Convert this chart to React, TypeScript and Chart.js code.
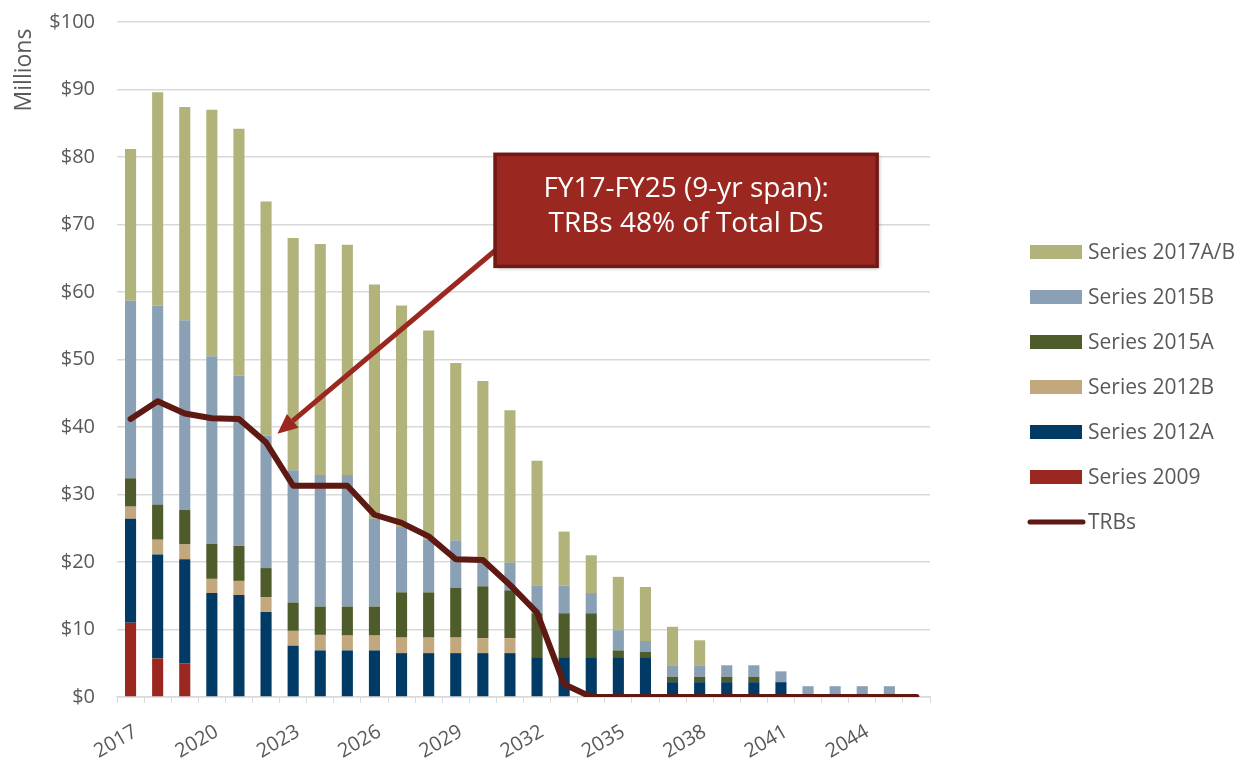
import React, { useEffect, useRef } from "react";
import { Chart, registerables } from "chart.js";

Chart.register(...registerables);

const FONT = "'Open Sans', 'Liberation Sans', sans-serif";
const SHIFT = 12; // canvas is shifted up by this many px

const years = [
  "2017", "2018", "2019", "2020", "2021", "2022", "2023", "2024", "2025", "2026",
  "2027", "2028", "2029", "2030", "2031", "2032", "2033", "2034", "2035", "2036",
  "2037", "2038", "2039", "2040", "2041", "2042", "2043", "2044", "2045", "2046",
];

const series2009 = [11.0, 5.7, 5.0, 0, 0, 0, 0, 0, 0, 0, 0, 0, 0, 0, 0, 0, 0, 0, 0, 0, 0, 0, 0, 0, 0, 0, 0, 0, 0, 0];
const series2012A = [15.4, 15.4, 15.4, 15.4, 15.1, 12.6, 7.6, 6.9, 6.9, 6.9, 6.5, 6.5, 6.5, 6.5, 6.5, 5.9, 5.9, 5.9, 5.9, 5.9, 2.2, 2.2, 2.2, 2.2, 2.2, 0, 0, 0, 0, 0];
const series2012B = [1.8, 2.2, 2.2, 2.1, 2.1, 2.2, 2.2, 2.3, 2.2, 2.2, 2.3, 2.3, 2.3, 2.2, 2.2, 0, 0, 0, 0, 0, 0, 0, 0, 0, 0, 0, 0, 0, 0, 0];
const series2015A = [4.2, 5.2, 5.1, 5.2, 5.2, 4.3, 4.2, 4.2, 4.3, 4.3, 6.7, 6.7, 7.4, 7.7, 7.1, 6.5, 6.5, 6.5, 1.0, 0.8, 0.8, 0.8, 0.8, 0.8, 0, 0, 0, 0, 0, 0];
const series2015B = [26.3, 29.5, 28.1, 27.8, 25.2, 19.6, 19.6, 19.5, 19.5, 13.0, 9.7, 7.8, 7.0, 3.5, 4.1, 4.1, 4.1, 3.0, 3.0, 1.6, 1.6, 1.6, 1.7, 1.7, 1.6, 1.6, 1.6, 1.6, 1.6, 0];
const series2017AB = [22.5, 31.6, 31.6, 36.5, 36.6, 34.7, 34.4, 34.2, 34.1, 34.7, 32.8, 31.0, 26.3, 26.9, 22.6, 18.5, 8.0, 5.6, 7.9, 8.0, 5.8, 3.8, 0, 0, 0, 0, 0, 0, 0, 0];
const trbs = [41.2, 43.8, 42.0, 41.3, 41.2, 37.7, 31.3, 31.3, 31.3, 27.0, 25.8, 23.8, 20.4, 20.3, 16.6, 12.5, 1.9, 0, 0, 0, 0, 0, 0, 0, 0, 0, 0, 0, 0, 0];

const yTicks = [0, 10, 20, 30, 40, 50, 60, 70, 80, 90, 100];

const legendItems = [
  { label: "Series 2017A/B", color: "#b1b37b", type: "box" },
  { label: "Series 2015B", color: "#8aa0b5", type: "box" },
  { label: "Series 2015A", color: "#4e5b2b", type: "box" },
  { label: "Series 2012B", color: "#c4a87d", type: "box" },
  { label: "Series 2012A", color: "#003a65", type: "box" },
  { label: "Series 2009", color: "#9b2820", type: "box" },
  { label: "TRBs", color: "#5e1913", type: "line" },
];

const annotationLines = ["FY17-FY25 (9-yr span):", "TRBs 48% of Total DS"];

export default function App() {
  const canvasRef = useRef<HTMLCanvasElement>(null);

  useEffect(() => {
    document.body.style.margin = "0";
    document.body.style.overflow = "hidden";
    const canvas = canvasRef.current;
    if (!canvas) return;

    const overlay = {
      id: "overlay",
      afterDraw(chart: any) {
        const ctx = chart.ctx;
        const xs = chart.scales.x;
        const ys = chart.scales.y;
        ctx.save();

        // Y axis title "Millions"
        ctx.save();
        ctx.translate(24, 70 + SHIFT);
        ctx.rotate(-Math.PI / 2);
        ctx.fillStyle = "#595959";
        ctx.font = `23px ${FONT}`;
        ctx.textAlign = "center";
        ctx.textBaseline = "middle";
        ctx.fillText("Millions", 0, 0);
        ctx.restore();

        // Legend
        const lx = 1030;
        const ly0 = 252 + SHIFT;
        const step = 45;
        ctx.font = `21px ${FONT}`;
        ctx.textBaseline = "middle";
        ctx.textAlign = "left";
        legendItems.forEach((it, i) => {
          const y = ly0 + i * step;
          if (it.type === "box") {
            ctx.fillStyle = it.color;
            ctx.fillRect(lx, y - 7, 52, 14);
          } else {
            ctx.strokeStyle = it.color;
            ctx.lineWidth = 5;
            ctx.lineCap = "round";
            ctx.beginPath();
            ctx.moveTo(lx, y);
            ctx.lineTo(lx + 53, y);
            ctx.stroke();
          }
          ctx.fillStyle = "#595959";
          ctx.fillText(it.label, lx + 58, y + 1);
        });

        // Arrow
        const sx = xs.getPixelForValue(13.5);
        const sy = ys.getPixelForValue(66.3);
        const tx = xs.getPixelForValue(5.42);
        const ty = ys.getPixelForValue(39.0);
        const ang = Math.atan2(ty - sy, tx - sx);
        const headLen = 20;
        const headW = 9;
        const bx = tx - headLen * Math.cos(ang);
        const by = ty - headLen * Math.sin(ang);
        ctx.strokeStyle = "#9b2820";
        ctx.lineWidth = 5;
        ctx.lineCap = "butt";
        ctx.beginPath();
        ctx.moveTo(sx, sy);
        ctx.lineTo(bx, by);
        ctx.stroke();
        ctx.fillStyle = "#9b2820";
        ctx.beginPath();
        ctx.moveTo(tx, ty);
        ctx.lineTo(bx + headW * Math.sin(ang), by - headW * Math.cos(ang));
        ctx.lineTo(bx - headW * Math.sin(ang), by + headW * Math.cos(ang));
        ctx.closePath();
        ctx.fill();

        // Annotation box
        const bl = xs.getPixelForValue(13.45);
        const br = xs.getPixelForValue(27.55);
        const bt = ys.getPixelForValue(80.4);
        const bb = ys.getPixelForValue(63.8);
        ctx.save();
        ctx.shadowColor = "rgba(0,0,0,0.35)";
        ctx.shadowBlur = 4;
        ctx.shadowOffsetX = 2;
        ctx.shadowOffsetY = 2;
        ctx.fillStyle = "#9b2820";
        ctx.fillRect(bl, bt, br - bl, bb - bt);
        ctx.restore();
        ctx.strokeStyle = "#6f1b15";
        ctx.lineWidth = 3.5;
        ctx.strokeRect(bl, bt, br - bl, bb - bt);
        ctx.fillStyle = "#ffffff";
        ctx.font = `28px ${FONT}`;
        ctx.textAlign = "center";
        ctx.textBaseline = "middle";
        const cx = (bl + br) / 2;
        ctx.fillText(annotationLines[0], cx, ys.getPixelForValue(75.3));
        ctx.fillText(annotationLines[1], cx, ys.getPixelForValue(70.0));

        ctx.restore();
      },
    };

    const barDs = (label: string, data: number[], color: string) => ({
      type: "bar" as const,
      label,
      data,
      backgroundColor: color,
      borderWidth: 0,
      stack: "ds",
      order: 1,
      barPercentage: 0.41,
      categoryPercentage: 1.0,
    });

    const chart = new Chart(canvas, {
      type: "bar",
      data: {
        labels: years,
        datasets: [
          barDs("Series 2009", series2009, "#9b2820"),
          barDs("Series 2012A", series2012A, "#003a65"),
          barDs("Series 2012B", series2012B, "#c4a87d"),
          barDs("Series 2015A", series2015A, "#4e5b2b"),
          barDs("Series 2015B", series2015B, "#8aa0b5"),
          barDs("Series 2017A/B", series2017AB, "#b1b37b"),
          {
            type: "line" as const,
            label: "TRBs",
            data: trbs,
            borderColor: "#5e1913",
            borderWidth: 6,
            pointRadius: 0,
            tension: 0,
            borderCapStyle: "round",
            borderJoinStyle: "round",
            stack: "trb",
            order: 0,
          } as any,
        ],
      },
      options: {
        animation: false,
        responsive: true,
        maintainAspectRatio: false,
        layout: { padding: { top: 8, right: 309, left: 0, bottom: 0 } },
        plugins: {
          legend: { display: false },
          tooltip: { enabled: false },
        },
        scales: {
          x: {
            stacked: true,
            offset: true,
            grid: {
              display: true,
              drawOnChartArea: false,
              drawTicks: true,
              tickLength: 6,
              color: "#d9d9d9",
              offset: true,
            },
            border: { display: true, color: "#d9d9d9", width: 1.5 },
            ticks: {
              autoSkip: false,
              maxRotation: 30,
              minRotation: 30,
              padding: 17,
              labelOffset: 5,
              color: "#595959",
              font: { size: 20, family: FONT },
              callback: (_v: any, i: number) => (i % 3 === 0 ? years[i] : ""),
            },
            afterFit: (s: any) => {
              s.height = 63;
            },
          },
          y: {
            stacked: true,
            min: 0,
            max: 100,
            afterBuildTicks: (s: any) => {
              s.ticks = yTicks.map((v) => ({ value: v }));
            },
            grid: { color: "#d9d9d9", lineWidth: 1.5, drawTicks: false },
            border: { display: false },
            ticks: {
              padding: 22,
              color: "#595959",
              font: { size: 20, family: FONT },
              callback: (v: any) => "$" + v,
            },
            afterFit: (s: any) => {
              s.width = 117;
            },
          },
        },
      },
      plugins: [overlay],
    });

    return () => chart.destroy();
  }, []);

  return (
    <div style={{ position: "relative", width: 1239, height: 760, overflow: "hidden" }}>
      <div style={{ position: "absolute", left: 0, top: -SHIFT, width: 1239, height: 760 + SHIFT }}>
        <canvas ref={canvasRef} />
      </div>
    </div>
  );
}
